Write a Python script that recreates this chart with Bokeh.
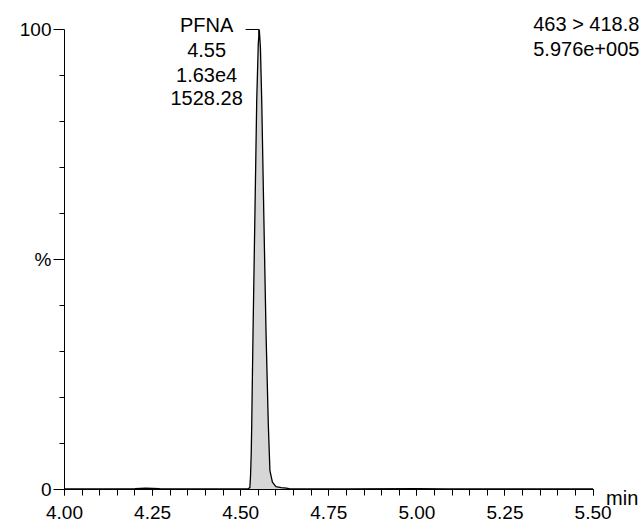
from bokeh.plotting import figure
from bokeh.models import Range1d, FixedTicker, Label
from bokeh.embed import file_html
from bokeh.resources import INLINE

# --- data ---
time_min = [4.00, 4.10, 4.20, 4.23, 4.27, 4.40, 4.50, 4.520, 4.526, 4.528, 4.530, 4.5313,
            4.535, 4.540, 4.5455, 4.550, 4.5528, 4.556, 4.5597, 4.566, 4.5719, 4.5784,
            4.583, 4.590, 4.600, 4.615, 4.630, 4.640, 4.80, 5.00, 5.08, 5.30, 5.50]
intensity_pct = [0, 0, 0.1, 0.2, 0.1, 0, 0, 0, 0.3, 3, 8, 14,
                 34, 58, 84.6, 97, 100, 96, 84.6, 58, 34, 14,
                 4, 1.5, 0.5, 0.3, 0.2, 0, 0, 0.1, 0, 0, 0]

x_major_ticks = [4.00, 4.25, 4.50, 4.75, 5.00, 5.25, 5.50]
x_minor_ticks = [round(4.0 + 0.05 * i, 2) for i in range(31)]
y_major_ticks = [0, 50, 100]
y_major_labels = {0: "0", 50: "%", 100: "100"}
y_minor_ticks = [10, 20, 30, 40, 60, 70, 80, 90]

peak_name = "PFNA"
peak_rt = "4.55"
peak_area = "1.63e4"
peak_height = "1528.28"
peak_label_x = 4.4034
transition = "463 > 418.8"
max_intensity = "5.976e+005"
time_unit = "min"

FONT = "Liberation Sans"

p = figure(width=641, height=522, output_backend="svg", toolbar_location=None,
           x_range=Range1d(3.8184, 5.6374), y_range=Range1d(-7.29, 106.31),
           min_border_left=0, min_border_right=0, min_border_top=0, min_border_bottom=0)
p.outline_line_color = None
p.xgrid.visible = False
p.ygrid.visible = False
p.background_fill_color = "white"
p.border_fill_color = "white"

# peak fill + trace
p.varea(x=time_min, y1=0, y2=intensity_pct, fill_color="#d2d2d2", fill_alpha=0.9)
p.line(time_min, intensity_pct, line_color="black", line_width=1.3)

# bracket marker at apex
p.line([4.514, 4.5515, 4.5515], [100, 100, 98.7], line_color="black", line_width=1)

# axes
xa = p.xaxis[0]
xa.fixed_location = 0
xa.bounds = (4.0, 5.5)
xa.ticker = FixedTicker(ticks=x_major_ticks, minor_ticks=x_minor_ticks)
xa.major_label_overrides = {t: f"{t:.2f}" for t in x_major_ticks}
xa.major_tick_out = 6
xa.major_tick_in = 0
xa.minor_tick_out = 6
xa.minor_tick_in = 0
xa.major_label_standoff = 11
xa.major_label_text_font = FONT
xa.major_label_text_font_size = "19px"
xa.major_label_text_color = "black"
xa.axis_line_color = "black"
xa.major_tick_line_color = "black"
xa.minor_tick_line_color = "black"

ya = p.yaxis[0]
ya.fixed_location = 4.0
ya.bounds = (0, 100)
ya.ticker = FixedTicker(ticks=y_major_ticks, minor_ticks=y_minor_ticks)
ya.major_label_overrides = y_major_labels
ya.major_tick_out = 11
ya.major_tick_in = 0
ya.minor_tick_out = 5
ya.minor_tick_in = 0
ya.major_label_standoff = 2
ya.major_label_text_font = FONT
ya.major_label_text_font_size = "19px"
ya.major_label_text_color = "black"
ya.axis_line_color = "black"
ya.major_tick_line_color = "black"
ya.minor_tick_line_color = "black"

def add_label(x, y, text, align="center", size="20px"):
    p.add_layout(Label(x=x, y=y, text=text, text_font=FONT, text_font_size=size,
                       text_color="black", text_align=align, text_baseline="alphabetic"))

add_label(peak_label_x, 100.87, peak_name)
add_label(peak_label_x, 95.43, peak_rt)
add_label(peak_label_x, 90.2, peak_area)
add_label(peak_label_x, 85.1, peak_height)
add_label(5.6315, 101.24, transition, align="right")
add_label(5.6315, 95.8, max_intensity, align="right")
add_label(5.537, -1.92, time_unit, align="left")

open("out.html", "w").write(file_html(p, INLINE))
